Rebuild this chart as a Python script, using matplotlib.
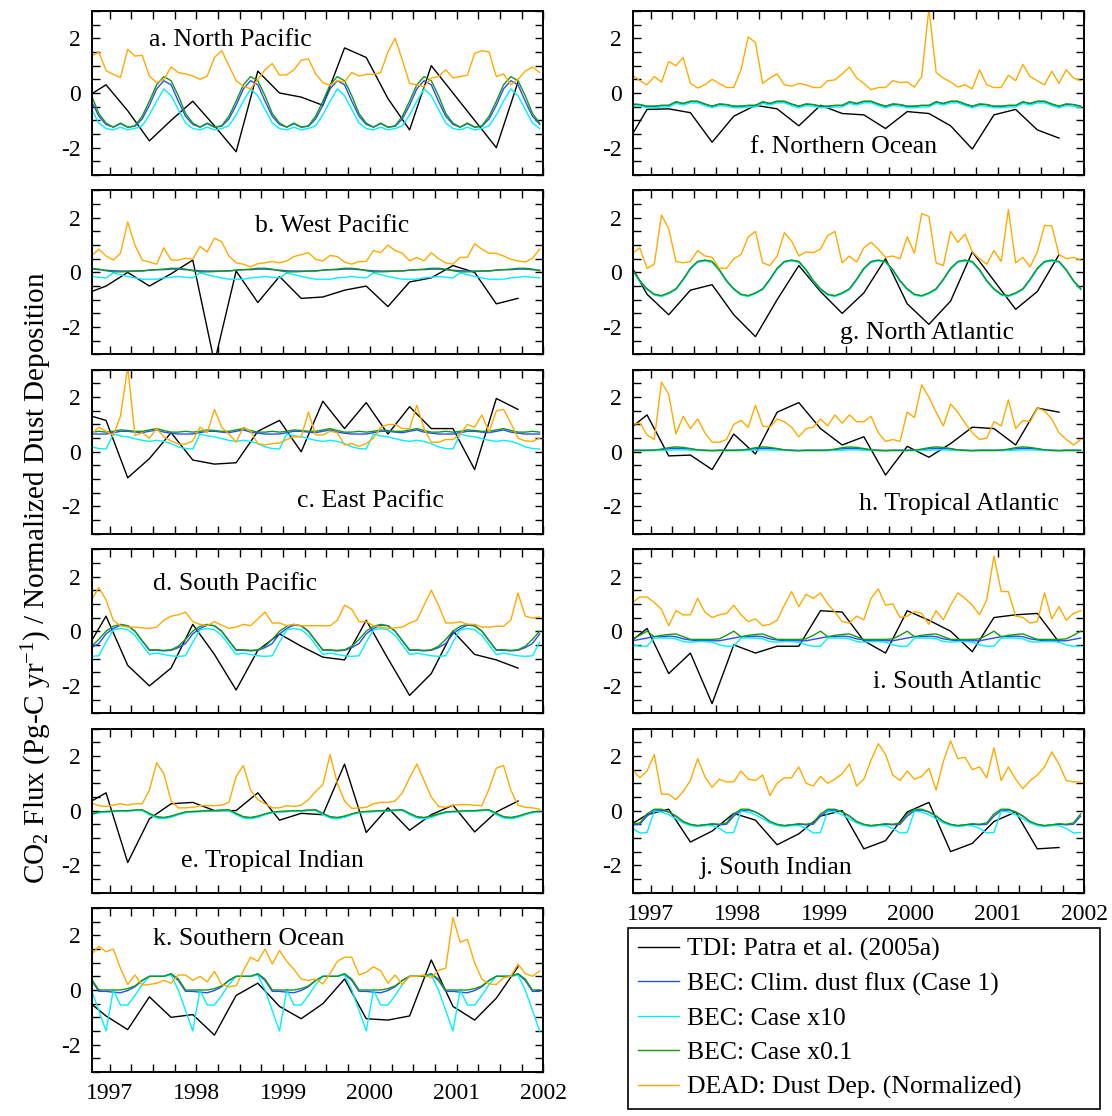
import numpy as np
import matplotlib
matplotlib.use("Agg")
import matplotlib.pyplot as plt
from matplotlib.ticker import MultipleLocator
from matplotlib.lines import Line2D

plt.rcParams['font.family'] = ['Liberation Serif', 'DejaVu Serif']
plt.rcParams['mathtext.fontset'] = 'custom'
plt.rcParams['mathtext.rm'] = 'Liberation Serif'
plt.rcParams['mathtext.it'] = 'Liberation Serif:italic'
plt.rcParams['axes.unicode_minus'] = False

# time axes: monthly Oct 1996 - Dec 2001, quarterly (Sep 1996 - Sep 2001)
m_t = 1996 + (np.arange(63) + 9.5) / 12.0
q_t = 1996 + (np.arange(21) * 3 + 8.5) / 12.0

# ---------------- a. North Pacific ----------------
a_tdi = [-0.2, 0.3, -0.65, -1.75, -1.0, -0.3, -1.2, -2.15, 0.8, 0.0, -0.15,
         -0.45, 1.65, 1.3, -0.2, -1.35, 1.0, 0.0, -1.0, -2.0, 0.4]
a_clim = [-0.3, -0.85, -1.15,
          -1.25, -1.12, -1.25, -1.22, -0.95, -0.45, 0.15, 0.45, 0.3, -0.3, -0.85, -1.15,
          -1.25, -1.12, -1.25, -1.22, -0.95, -0.45, 0.15, 0.45, 0.3, -0.3, -0.85, -1.15,
          -1.25, -1.12, -1.25, -1.22, -0.95, -0.45, 0.15, 0.45, 0.3, -0.3, -0.85, -1.15,
          -1.25, -1.12, -1.25, -1.22, -0.95, -0.45, 0.15, 0.45, 0.3, -0.3, -0.85, -1.15,
          -1.25, -1.12, -1.25, -1.22, -0.95, -0.45, 0.15, 0.45, 0.3, -0.3, -0.85, -1.15]
a_x10 = [-0.6, -1.1, -1.3,
         -1.35, -1.25, -1.35, -1.3, -1.2, -0.8, -0.3, 0.15, -0.1, -0.6, -1.1, -1.3,
         -1.35, -1.25, -1.35, -1.3, -1.2, -0.8, -0.3, 0.15, -0.1, -0.6, -1.1, -1.3,
         -1.35, -1.25, -1.35, -1.3, -1.2, -0.8, -0.3, 0.15, -0.1, -0.6, -1.1, -1.3,
         -1.35, -1.25, -1.35, -1.3, -1.2, -0.8, -0.3, 0.15, -0.1, -0.6, -1.1, -1.3,
         -1.35, -1.25, -1.35, -1.3, -1.2, -0.8, -0.3, 0.15, -0.1, -0.6, -1.1, -1.3]
a_x01 = [-0.1, -0.75, -1.1,
         -1.25, -1.1, -1.25, -1.2, -0.85, -0.3, 0.3, 0.6, 0.45, -0.1, -0.75, -1.1,
         -1.25, -1.1, -1.25, -1.2, -0.85, -0.3, 0.3, 0.6, 0.45, -0.1, -0.75, -1.1,
         -1.25, -1.1, -1.25, -1.2, -0.85, -0.3, 0.3, 0.6, 0.45, -0.1, -0.75, -1.1,
         -1.25, -1.1, -1.25, -1.2, -0.85, -0.3, 0.3, 0.6, 0.45, -0.1, -0.75, -1.1,
         -1.25, -1.1, -1.25, -1.2, -0.85, -0.3, 0.3, 0.6, 0.45, -0.1, -0.75, -1.1]
a_dust = [1.35, 1.5, 0.82, 0.68, 0.57, 1.6, 1.35, 1.38, 0.62, 0.38,
          0.5, 0.95, 0.75, 0.7, 0.62, 0.5, 0.62, 1.3, 1.55, 1.0,
          0.45, 0.25, 0.15, 0.5, 0.85, 1.08, 0.65, 0.67, 0.85, 1.2,
          1.25, 0.7, 0.38, 0.28, 0.45, 0.4, 0.75, 0.62, 0.68, 0.68,
          0.75, 1.5, 2.0, 1.2, 0.35, 0.3, 0.22, 0.55, 0.6, 0.85,
          0.55, 0.6, 0.65, 1.45, 1.55, 1.5, 0.6, 0.7, 0.3, 0.5,
          0.8, 0.95, 0.75]

# ---------------- b. West Pacific ----------------
b_tdi = [-0.8, -0.5, 0.0, -0.5, -0.05, 0.45, -3.3, 0.05, -1.1, -0.15, -0.95,
         -0.9, -0.65, -0.5, -1.25, -0.35, -0.2, 0.25, 0.0, -1.15, -0.95]
b_clim = [0.12, 0.1, 0.08,
          0.06, 0.05, 0.05, 0.05, 0.06, 0.08, 0.1, 0.1, 0.12, 0.12, 0.1, 0.08,
          0.06, 0.05, 0.05, 0.05, 0.06, 0.08, 0.1, 0.1, 0.12, 0.12, 0.1, 0.08,
          0.06, 0.05, 0.05, 0.05, 0.06, 0.08, 0.1, 0.1, 0.12, 0.12, 0.1, 0.08,
          0.06, 0.05, 0.05, 0.05, 0.06, 0.08, 0.1, 0.1, 0.12, 0.12, 0.1, 0.08,
          0.06, 0.05, 0.05, 0.05, 0.06, 0.08, 0.1, 0.1, 0.12, 0.12, 0.1, 0.08]
b_x10 = [-0.15, -0.18, -0.2,
         -0.02, -0.08, -0.15, -0.2, -0.25, -0.25, -0.25, -0.2, -0.18, -0.15, -0.18, -0.2,
         -0.02, -0.08, -0.15, -0.2, -0.25, -0.25, -0.25, -0.2, -0.18, -0.15, -0.18, -0.2,
         -0.02, -0.08, -0.15, -0.2, -0.25, -0.25, -0.25, -0.2, -0.18, -0.15, -0.18, -0.2,
         -0.02, -0.08, -0.15, -0.2, -0.25, -0.25, -0.25, -0.2, -0.18, -0.15, -0.18, -0.2,
         -0.02, -0.08, -0.15, -0.2, -0.25, -0.25, -0.25, -0.2, -0.18, -0.15, -0.18, -0.2]
b_x01 = [0.15, 0.12, 0.06,
         0.02, 0.02, 0.03, 0.05, 0.05, 0.08, 0.1, 0.12, 0.15, 0.15, 0.12, 0.06,
         0.02, 0.02, 0.03, 0.05, 0.05, 0.08, 0.1, 0.12, 0.15, 0.15, 0.12, 0.06,
         0.02, 0.02, 0.03, 0.05, 0.05, 0.08, 0.1, 0.12, 0.15, 0.15, 0.12, 0.06,
         0.02, 0.02, 0.03, 0.05, 0.05, 0.08, 0.1, 0.12, 0.15, 0.15, 0.12, 0.06,
         0.02, 0.02, 0.03, 0.05, 0.05, 0.08, 0.1, 0.12, 0.15, 0.15, 0.12, 0.06]
b_dust = [0.6, 0.85, 0.6, 0.45, 0.7, 1.85, 1.0, 0.45, 0.38, 0.3,
          0.9, 0.45, 0.45, 0.52, 0.48, 0.95, 0.75, 1.25, 1.12, 0.6,
          0.35, 0.3, 0.2, 0.32, 0.35, 0.4, 0.35, 0.42, 0.58, 0.65,
          0.72, 0.48, 0.42, 0.62, 0.58, 0.38, 0.3, 0.4, 0.4, 0.8,
          0.72, 1.0, 0.8, 0.7, 0.42, 0.55, 0.42, 0.72, 0.5, 0.35,
          0.3, 0.55, 0.55, 1.05, 0.85, 0.7, 0.7, 0.6, 0.48, 0.42,
          0.38, 0.52, 0.85]

# ---------------- c. East Pacific ----------------
c_tdi = [1.38, 1.15, -0.95, -0.25, 0.7, -0.3, -0.45, -0.4, 0.75, 1.15, 0.0,
         1.85, 0.85, 1.8, 0.65, 1.65, 0.85, 0.85, -0.65, 1.95, 1.55]
c_clim = [0.65, 0.65, 0.65,
          0.7, 0.75, 0.75, 0.72, 0.7, 0.75, 0.8, 0.72, 0.68, 0.65, 0.65, 0.65,
          0.7, 0.75, 0.75, 0.72, 0.7, 0.75, 0.8, 0.72, 0.68, 0.65, 0.65, 0.65,
          0.7, 0.75, 0.75, 0.72, 0.7, 0.75, 0.8, 0.72, 0.68, 0.65, 0.65, 0.65,
          0.7, 0.75, 0.75, 0.72, 0.7, 0.75, 0.8, 0.72, 0.68, 0.65, 0.65, 0.65,
          0.7, 0.75, 0.75, 0.72, 0.7, 0.75, 0.8, 0.72, 0.68, 0.65, 0.65, 0.65]
c_x10 = [0.18, 0.12, 0.1,
         0.65, 0.58, 0.55, 0.48, 0.42, 0.38, 0.42, 0.38, 0.3, 0.18, 0.12, 0.1,
         0.65, 0.58, 0.55, 0.48, 0.42, 0.38, 0.42, 0.38, 0.3, 0.18, 0.12, 0.1,
         0.65, 0.58, 0.55, 0.48, 0.42, 0.38, 0.42, 0.38, 0.3, 0.18, 0.12, 0.1,
         0.65, 0.58, 0.55, 0.48, 0.42, 0.38, 0.42, 0.38, 0.3, 0.18, 0.12, 0.1,
         0.65, 0.58, 0.55, 0.48, 0.42, 0.38, 0.42, 0.38, 0.3, 0.18, 0.12, 0.1]
c_x01 = [0.72, 0.75, 0.72,
         0.75, 0.8, 0.78, 0.75, 0.75, 0.8, 0.85, 0.78, 0.72, 0.72, 0.75, 0.72,
         0.75, 0.8, 0.78, 0.75, 0.75, 0.8, 0.85, 0.78, 0.72, 0.72, 0.75, 0.72,
         0.75, 0.8, 0.78, 0.75, 0.75, 0.8, 0.85, 0.78, 0.72, 0.72, 0.75, 0.72,
         0.75, 0.8, 0.78, 0.75, 0.75, 0.8, 0.85, 0.78, 0.72, 0.72, 0.75, 0.72,
         0.75, 0.8, 0.78, 0.75, 0.75, 0.8, 0.85, 0.78, 0.72, 0.72, 0.75, 0.72]
c_dust = [0.65, 0.9, 0.75, 0.6, 1.3, 3.1, 0.6, 0.7, 0.5, 0.85,
          0.55, 0.4, 0.28, 0.28, 0.4, 0.9, 0.7, 1.55, 0.9, 0.65,
          0.35, 0.9, 0.75, 0.3, 0.25, 0.3, 0.32, 0.45, 0.55, 0.55,
          1.45, 0.62, 0.62, 0.75, 0.7, 0.25, 0.3, 0.2, 0.3, 0.5,
          0.9, 1.0, 1.0, 0.85, 0.85, 1.7, 0.85, 0.35, 0.35, 0.45,
          0.45, 0.65, 1.0, 0.9, 1.35, 0.72, 1.5, 1.55, 1.05, 0.5,
          0.4, 0.38, 0.5]

# ---------------- d. South Pacific ----------------
d_tdi = [-0.8, 0.55, -1.25, -2.0, -1.35, 0.25, -0.85, -2.15, -0.7, -0.1, -0.55,
         -0.95, -1.05, 0.4, -1.0, -2.35, -1.55, 0.0, -0.85, -1.05, -1.35]
d_clim = [-0.6, -0.45, -0.1,
          0.1, 0.22, 0.2, 0.0, -0.35, -0.7, -0.7, -0.72, -0.7, -0.6, -0.45, -0.1,
          0.1, 0.22, 0.2, 0.0, -0.35, -0.7, -0.7, -0.72, -0.7, -0.6, -0.45, -0.1,
          0.1, 0.22, 0.2, 0.0, -0.35, -0.7, -0.7, -0.72, -0.7, -0.6, -0.45, -0.1,
          0.1, 0.22, 0.2, 0.0, -0.35, -0.7, -0.7, -0.72, -0.7, -0.6, -0.45, -0.1,
          0.1, 0.22, 0.2, 0.0, -0.35, -0.7, -0.7, -0.72, -0.7, -0.6, -0.45, -0.1]
d_x10 = [-0.92, -0.9, -0.4,
         0.05, 0.1, 0.05, -0.15, -0.5, -0.85, -0.8, -0.85, -0.9, -0.92, -0.9, -0.4,
         0.05, 0.1, 0.05, -0.15, -0.5, -0.85, -0.8, -0.85, -0.9, -0.92, -0.9, -0.4,
         0.05, 0.1, 0.05, -0.15, -0.5, -0.85, -0.8, -0.85, -0.9, -0.92, -0.9, -0.4,
         0.05, 0.1, 0.05, -0.15, -0.5, -0.85, -0.8, -0.85, -0.9, -0.92, -0.9, -0.4,
         0.05, 0.1, 0.05, -0.15, -0.5, -0.85, -0.8, -0.85, -0.9, -0.92, -0.9, -0.4]
d_x01 = [-0.55, -0.3, 0.0,
         0.18, 0.25, 0.2, 0.0, -0.35, -0.68, -0.68, -0.7, -0.68, -0.55, -0.3, 0.0,
         0.18, 0.25, 0.2, 0.0, -0.35, -0.68, -0.68, -0.7, -0.68, -0.55, -0.3, 0.0,
         0.18, 0.25, 0.2, 0.0, -0.35, -0.68, -0.68, -0.7, -0.68, -0.55, -0.3, 0.0,
         0.18, 0.25, 0.2, 0.0, -0.35, -0.68, -0.68, -0.7, -0.68, -0.55, -0.3, 0.0,
         0.18, 0.25, 0.2, 0.0, -0.35, -0.68, -0.68, -0.7, -0.68, -0.55, -0.3, 0.0]
d_dust = [1.15, 1.6, 1.15, 0.4, 0.2, 0.15, 0.15, 0.12, 0.1, 0.15,
          0.4, 0.55, 0.6, 0.7, 0.35, 0.25, 0.2, 0.35, 0.22, 0.1,
          0.15, 0.25, 0.2, 0.45, 0.7, 0.3, 0.3, 0.2, 0.25, 0.2,
          0.2, 0.2, 0.2, 0.2, 0.4, 0.95, 0.8, 0.35, 0.35, 0.2,
          0.15, 0.1, 0.12, 0.15, 0.3, 0.4, 0.95, 1.5, 0.95, 0.3,
          0.3, 0.35, 0.25, 0.25, 0.15, 0.15, 0.18, 0.18, 0.4, 1.4,
          0.55, 0.48, 0.52]

# ---------------- e. Tropical Indian ----------------
e_tdi = [0.2, 0.65, -1.9, -0.3, 0.25, 0.3, 0.0, 0.0, 0.65, -0.35, -0.1,
         -0.15, 1.7, -0.8, 0.1, -0.72, -0.15, 0.2, -0.78, -0.05, 0.35]
e_clim = [-0.13, -0.06, -0.04,
          -0.03, -0.01, -0.01, 0.01, 0.02, -0.12, -0.24, -0.27, -0.22, -0.13, -0.06, -0.04,
          -0.03, -0.01, -0.01, 0.01, 0.02, -0.12, -0.24, -0.27, -0.22, -0.13, -0.06, -0.04,
          -0.03, -0.01, -0.01, 0.01, 0.02, -0.12, -0.24, -0.27, -0.22, -0.13, -0.06, -0.04,
          -0.03, -0.01, -0.01, 0.01, 0.02, -0.12, -0.24, -0.27, -0.22, -0.13, -0.06, -0.04,
          -0.03, -0.01, -0.01, 0.01, 0.02, -0.12, -0.24, -0.27, -0.22, -0.13, -0.06, -0.04]
e_x10 = [-0.15, -0.08, -0.05,
         -0.04, -0.02, -0.02, 0.0, 0.0, -0.15, -0.27, -0.3, -0.25, -0.15, -0.08, -0.05,
         -0.04, -0.02, -0.02, 0.0, 0.0, -0.15, -0.27, -0.3, -0.25, -0.15, -0.08, -0.05,
         -0.04, -0.02, -0.02, 0.0, 0.0, -0.15, -0.27, -0.3, -0.25, -0.15, -0.08, -0.05,
         -0.04, -0.02, -0.02, 0.0, 0.0, -0.15, -0.27, -0.3, -0.25, -0.15, -0.08, -0.05,
         -0.04, -0.02, -0.02, 0.0, 0.0, -0.15, -0.27, -0.3, -0.25, -0.15, -0.08, -0.05]
e_x01 = [-0.12, -0.05, -0.03,
         -0.02, 0.0, 0.0, 0.02, 0.03, -0.1, -0.22, -0.25, -0.2, -0.12, -0.05, -0.03,
         -0.02, 0.0, 0.0, 0.02, 0.03, -0.1, -0.22, -0.25, -0.2, -0.12, -0.05, -0.03,
         -0.02, 0.0, 0.0, 0.02, 0.03, -0.1, -0.22, -0.25, -0.2, -0.12, -0.05, -0.03,
         -0.02, 0.0, 0.0, 0.02, 0.03, -0.1, -0.22, -0.25, -0.2, -0.12, -0.05, -0.03,
         -0.02, 0.0, 0.0, 0.02, 0.03, -0.1, -0.22, -0.25, -0.2, -0.12, -0.05, -0.03]
e_dust = [0.28, 0.18, 0.15, 0.2, 0.25, 0.2, 0.25, 0.25, 0.75, 1.75,
          1.35, 0.35, 0.1, 0.1, 0.12, 0.18, 0.18, 0.18, 0.2, 0.3,
          1.25, 1.65, 0.75, 0.4, 0.25, 0.1, 0.1, 0.18, 0.15, 0.2,
          0.4, 0.7, 0.95, 2.05, 1.0, 0.35, 0.08, 0.1, 0.12, 0.25,
          0.3, 0.3, 0.35, 0.65, 1.2, 1.7, 1.1, 0.5, 0.15, 0.12,
          0.2, 0.22, 0.22, 0.2, 0.18, 0.8, 1.55, 1.65, 0.75, 0.2,
          0.12, 0.1, 0.05]

# ---------------- k. Southern Ocean ----------------
k_tdi = [-0.3, -0.95, -1.45, -0.25, -1.0, -0.9, -1.65, -0.2, 0.25, -0.6, -1.05,
         -0.5, 0.4, -1.05, -1.1, -0.95, 1.1, -0.6, -1.1, -0.3, 0.85]
k_clim = [0.35, -0.05, -0.05,
          -0.08, -0.1, -0.02, 0.12, 0.35, 0.5, 0.5, 0.5, 0.58, 0.35, -0.05, -0.05,
          -0.08, -0.1, -0.02, 0.12, 0.35, 0.5, 0.5, 0.5, 0.58, 0.35, -0.05, -0.05,
          -0.08, -0.1, -0.02, 0.12, 0.35, 0.5, 0.5, 0.5, 0.58, 0.35, -0.05, -0.05,
          -0.08, -0.1, -0.02, 0.12, 0.35, 0.5, 0.5, 0.5, 0.58, 0.35, -0.05, -0.05,
          -0.08, -0.1, -0.02, 0.12, 0.35, 0.5, 0.5, 0.5, 0.58, 0.35, -0.05, -0.05]
k_x10 = [0.0, -0.75, -1.5,
         0.0, -0.55, -0.55, -0.2, 0.2, 0.5, 0.5, 0.5, 0.55, 0.0, -0.75, -1.5,
         0.0, -0.55, -0.55, -0.2, 0.2, 0.5, 0.5, 0.5, 0.55, 0.0, -0.75, -1.5,
         0.0, -0.55, -0.55, -0.2, 0.2, 0.5, 0.5, 0.5, 0.55, 0.0, -0.75, -1.5,
         0.0, -0.55, -0.55, -0.2, 0.2, 0.5, 0.5, 0.5, 0.55, 0.0, -0.75, -1.5,
         0.0, -0.55, -0.55, -0.2, 0.2, 0.5, 0.5, 0.5, 0.55, 0.0, -0.75, -1.5]
k_x01 = [0.4, 0.0, 0.0,
         0.0, 0.0, 0.05, 0.15, 0.35, 0.5, 0.5, 0.5, 0.6, 0.4, 0.0, 0.0,
         0.0, 0.0, 0.05, 0.15, 0.35, 0.5, 0.5, 0.5, 0.6, 0.4, 0.0, 0.0,
         0.0, 0.0, 0.05, 0.15, 0.35, 0.5, 0.5, 0.5, 0.6, 0.4, 0.0, 0.0,
         0.0, 0.0, 0.05, 0.15, 0.35, 0.5, 0.5, 0.5, 0.6, 0.4, 0.0, 0.0,
         0.0, 0.0, 0.05, 0.15, 0.35, 0.5, 0.5, 0.5, 0.6, 0.4, 0.0, 0.0]
k_dust = [1.3, 1.6, 1.4, 1.5, 0.8, 0.2, 0.55, 0.18, 0.2, 0.25,
          0.35, 0.25, 0.55, 0.55, 0.35, 0.5, 0.3, 0.68, 0.2, 0.12,
          0.15, 0.7, 1.2, 1.05, 1.5, 0.95, 1.45, 1.05, 0.75, 0.4,
          0.35, 0.4, 0.22, 0.6, 1.05, 1.2, 1.2, 0.55, 0.65, 0.85,
          0.7, 0.25, 0.55, 0.2, 0.5, 0.5, 0.55, 0.45, 0.72, 0.8,
          2.65, 1.75, 1.85, 1.0, 0.4, 0.22, 0.2, 0.45, 0.5, 0.95,
          0.6, 0.5, 0.7]

# ---------------- f. Northern Ocean ----------------
f_tdi = [-1.95, -0.6, -0.58, -0.72, -1.8, -0.85, -0.45, -0.58, -1.2, -0.45, -0.75,
         -0.8, -1.3, -0.68, -0.75, -1.2, -2.05, -0.8, -0.6, -1.35, -1.65]
f_clim = [-0.41, -0.43, -0.49,
          -0.49, -0.46, -0.46, -0.33, -0.39, -0.31, -0.31, -0.41, -0.49, -0.41, -0.43, -0.49,
          -0.49, -0.46, -0.46, -0.33, -0.39, -0.31, -0.31, -0.41, -0.49, -0.41, -0.43, -0.49,
          -0.49, -0.46, -0.46, -0.33, -0.39, -0.31, -0.31, -0.41, -0.49, -0.41, -0.43, -0.49,
          -0.49, -0.46, -0.46, -0.33, -0.39, -0.31, -0.31, -0.41, -0.49, -0.41, -0.43, -0.49,
          -0.49, -0.46, -0.46, -0.33, -0.39, -0.31, -0.31, -0.41, -0.49, -0.41, -0.43, -0.49]
f_x10 = [-0.46, -0.48, -0.54,
         -0.54, -0.51, -0.51, -0.38, -0.44, -0.36, -0.36, -0.46, -0.54, -0.46, -0.48, -0.54,
         -0.54, -0.51, -0.51, -0.38, -0.44, -0.36, -0.36, -0.46, -0.54, -0.46, -0.48, -0.54,
         -0.54, -0.51, -0.51, -0.38, -0.44, -0.36, -0.36, -0.46, -0.54, -0.46, -0.48, -0.54,
         -0.54, -0.51, -0.51, -0.38, -0.44, -0.36, -0.36, -0.46, -0.54, -0.46, -0.48, -0.54,
         -0.54, -0.51, -0.51, -0.38, -0.44, -0.36, -0.36, -0.46, -0.54, -0.46, -0.48, -0.54]
f_x01 = [-0.4, -0.42, -0.48,
         -0.48, -0.45, -0.45, -0.32, -0.38, -0.3, -0.3, -0.4, -0.48, -0.4, -0.42, -0.48,
         -0.48, -0.45, -0.45, -0.32, -0.38, -0.3, -0.3, -0.4, -0.48, -0.4, -0.42, -0.48,
         -0.48, -0.45, -0.45, -0.32, -0.38, -0.3, -0.3, -0.4, -0.48, -0.4, -0.42, -0.48,
         -0.48, -0.45, -0.45, -0.32, -0.38, -0.3, -0.3, -0.4, -0.48, -0.4, -0.42, -0.48,
         -0.48, -0.45, -0.45, -0.32, -0.38, -0.3, -0.3, -0.4, -0.48, -0.4, -0.42, -0.48]
f_dust = [0.65, 0.45, 0.3, 0.6, 0.4, 1.15, 1.0, 1.3, 0.35, 0.18,
          0.3, 0.5, 0.35, 0.2, 0.2, 0.85, 2.05, 1.85, 0.35, 0.55,
          0.7, 0.3, 0.25, 0.35, 0.3, 0.2, 0.2, 0.45, 0.48, 0.7,
          0.95, 0.55, 0.35, 0.12, 0.2, 0.2, 0.45, 0.38, 0.4, 0.22,
          0.6, 3.1, 0.75, 0.55, 0.4, 0.22, 0.3, 0.15, 0.85, 0.3,
          0.2, 0.2, 0.65, 0.45, 1.05, 0.6, 0.45, 0.3, 0.8, 0.35,
          0.85, 0.55, 0.45]

# ---------------- g. North Atlantic ----------------
g_tdi = [0.63, -0.8, -1.55, -0.65, -0.45, -1.55, -2.35, -1.0, 0.25, -0.7, -1.5,
         -0.75, 0.5, -1.15, -1.9, -1.05, 0.75, -0.3, -1.35, -0.7, 0.65]
g_clim = [0.09, -0.31, -0.61,
          -0.81, -0.86, -0.76, -0.61, -0.26, 0.14, 0.39, 0.44, 0.39, 0.09, -0.31, -0.61,
          -0.81, -0.86, -0.76, -0.61, -0.26, 0.14, 0.39, 0.44, 0.39, 0.09, -0.31, -0.61,
          -0.81, -0.86, -0.76, -0.61, -0.26, 0.14, 0.39, 0.44, 0.39, 0.09, -0.31, -0.61,
          -0.81, -0.86, -0.76, -0.61, -0.26, 0.14, 0.39, 0.44, 0.39, 0.09, -0.31, -0.61,
          -0.81, -0.86, -0.76, -0.61, -0.26, 0.14, 0.39, 0.44, 0.39, 0.09, -0.31, -0.61]
g_x10 = [0.07, -0.33, -0.63,
         -0.83, -0.88, -0.78, -0.63, -0.28, 0.12, 0.37, 0.42, 0.37, 0.07, -0.33, -0.63,
         -0.83, -0.88, -0.78, -0.63, -0.28, 0.12, 0.37, 0.42, 0.37, 0.07, -0.33, -0.63,
         -0.83, -0.88, -0.78, -0.63, -0.28, 0.12, 0.37, 0.42, 0.37, 0.07, -0.33, -0.63,
         -0.83, -0.88, -0.78, -0.63, -0.28, 0.12, 0.37, 0.42, 0.37, 0.07, -0.33, -0.63,
         -0.83, -0.88, -0.78, -0.63, -0.28, 0.12, 0.37, 0.42, 0.37, 0.07, -0.33, -0.63]
g_x01 = [0.1, -0.3, -0.6,
         -0.8, -0.85, -0.75, -0.6, -0.25, 0.15, 0.4, 0.45, 0.4, 0.1, -0.3, -0.6,
         -0.8, -0.85, -0.75, -0.6, -0.25, 0.15, 0.4, 0.45, 0.4, 0.1, -0.3, -0.6,
         -0.8, -0.85, -0.75, -0.6, -0.25, 0.15, 0.4, 0.45, 0.4, 0.1, -0.3, -0.6,
         -0.8, -0.85, -0.75, -0.6, -0.25, 0.15, 0.4, 0.45, 0.4, 0.1, -0.3, -0.6,
         -0.8, -0.85, -0.75, -0.6, -0.25, 0.15, 0.4, 0.45, 0.4, 0.1, -0.3, -0.6]
g_dust = [0.7, 0.9, 0.15, 0.3, 2.1, 1.6, 0.4, 0.35, 0.4, 0.8,
          0.6, 0.55, 0.15, 0.15, 0.5, 0.65, 1.3, 1.5, 0.35, 0.25,
          0.6, 1.45, 1.15, 0.6, 0.75, 0.72, 0.85, 1.35, 1.5, 0.35,
          0.6, 0.38, 0.9, 1.1, 0.85, 0.55, 0.6, 0.5, 1.3, 0.7,
          2.15, 2.05, 0.35, 0.25, 1.5, 1.1, 1.4, 0.75, 0.5, 0.3,
          0.8, 0.4, 2.3, 0.35, 0.55, 0.2, 0.75, 1.72, 1.7, 0.65,
          0.5, 0.55, 0.45]

# ---------------- h. Tropical Atlantic ----------------
h_tdi = [0.71, 1.35, -0.15, -0.12, -0.65, 0.65, -0.08, 1.45, 1.8, 0.85, 0.25,
         0.55, -0.85, 0.2, -0.2, 0.3, 0.9, 0.85, 0.25, 1.6, 1.45]
h_clim = [0.06, 0.06, 0.06,
          0.06, 0.08, 0.11, 0.13, 0.12, 0.1, 0.07, 0.06, 0.05, 0.06, 0.06, 0.06,
          0.06, 0.08, 0.11, 0.13, 0.12, 0.1, 0.07, 0.06, 0.05, 0.06, 0.06, 0.06,
          0.06, 0.08, 0.11, 0.13, 0.12, 0.1, 0.07, 0.06, 0.05, 0.06, 0.06, 0.06,
          0.06, 0.08, 0.11, 0.13, 0.12, 0.1, 0.07, 0.06, 0.05, 0.06, 0.06, 0.06,
          0.06, 0.08, 0.11, 0.13, 0.12, 0.1, 0.07, 0.06, 0.05, 0.06, 0.06, 0.06]
h_x10 = [0.04, 0.04, 0.04,
         0.04, 0.05, 0.06, 0.07, 0.07, 0.06, 0.05, 0.04, 0.04, 0.04, 0.04, 0.04,
         0.04, 0.05, 0.06, 0.07, 0.07, 0.06, 0.05, 0.04, 0.04, 0.04, 0.04, 0.04,
         0.04, 0.05, 0.06, 0.07, 0.07, 0.06, 0.05, 0.04, 0.04, 0.04, 0.04, 0.04,
         0.04, 0.05, 0.06, 0.07, 0.07, 0.06, 0.05, 0.04, 0.04, 0.04, 0.04, 0.04,
         0.04, 0.05, 0.06, 0.07, 0.07, 0.06, 0.05, 0.04, 0.04, 0.04, 0.04, 0.04]
h_x01 = [0.05, 0.05, 0.05,
         0.06, 0.1, 0.15, 0.18, 0.16, 0.12, 0.07, 0.05, 0.04, 0.05, 0.05, 0.05,
         0.06, 0.1, 0.15, 0.18, 0.16, 0.12, 0.07, 0.05, 0.04, 0.05, 0.05, 0.05,
         0.06, 0.1, 0.15, 0.18, 0.16, 0.12, 0.07, 0.05, 0.04, 0.05, 0.05, 0.05,
         0.06, 0.1, 0.15, 0.18, 0.16, 0.12, 0.07, 0.05, 0.04, 0.05, 0.05, 0.05,
         0.06, 0.1, 0.15, 0.18, 0.16, 0.12, 0.07, 0.05, 0.04, 0.05, 0.05, 0.05]
h_dust = [1.0, 1.05, 0.62, 0.45, 2.55, 2.1, 0.65, 1.3, 0.85, 1.2,
          0.7, 0.35, 0.35, 0.45, 1.0, 1.15, 0.9, 1.7, 0.95, 0.9,
          1.2, 1.1, 0.9, 0.55, 0.85, 0.9, 1.2, 0.95, 1.35, 1.05,
          1.35, 1.1, 1.1, 1.3, 0.7, 0.38, 0.45, 0.38, 1.45, 1.25,
          2.45, 2.0, 1.45, 0.95, 1.75, 1.45, 1.05, 0.7, 0.45, 0.5,
          1.1, 0.95, 1.9, 0.85, 1.15, 1.1, 1.6, 1.5, 1.2, 0.7,
          0.45, 0.25, 0.45]

# ---------------- i. South Atlantic ----------------
i_tdi = [-0.53, 0.1, -1.55, -0.8, -2.65, -0.5, -0.8, -0.55, -0.55, 0.75, 0.7,
         -0.35, -0.8, 0.75, 0.4, 0.0, -0.75, 0.5, 0.6, 0.65, -0.4]
i_clim = [-0.35, -0.3, -0.25,
          -0.2, -0.2, -0.18, -0.2, -0.28, -0.32, -0.35, -0.35, -0.35, -0.35, -0.3, -0.25,
          -0.2, -0.2, -0.18, -0.2, -0.28, -0.32, -0.35, -0.35, -0.35, -0.35, -0.3, -0.25,
          -0.2, -0.2, -0.18, -0.2, -0.28, -0.32, -0.35, -0.35, -0.35, -0.35, -0.3, -0.25,
          -0.2, -0.2, -0.18, -0.2, -0.28, -0.32, -0.35, -0.35, -0.35, -0.35, -0.3, -0.25,
          -0.2, -0.2, -0.18, -0.2, -0.28, -0.32, -0.35, -0.35, -0.35, -0.35, -0.3, -0.25]
i_x10 = [-0.5, -0.55, -0.55,
         -0.25, -0.25, -0.25, -0.28, -0.38, -0.4, -0.38, -0.38, -0.4, -0.5, -0.55, -0.55,
         -0.25, -0.25, -0.25, -0.28, -0.38, -0.4, -0.38, -0.38, -0.4, -0.5, -0.55, -0.55,
         -0.25, -0.25, -0.25, -0.28, -0.38, -0.4, -0.38, -0.38, -0.4, -0.5, -0.55, -0.55,
         -0.25, -0.25, -0.25, -0.28, -0.38, -0.4, -0.38, -0.38, -0.4, -0.5, -0.55, -0.55,
         -0.25, -0.25, -0.25, -0.28, -0.38, -0.4, -0.38, -0.38, -0.4, -0.5, -0.55, -0.55]
i_x01 = [-0.28, -0.15, 0.0,
         -0.2, -0.15, -0.12, -0.1, -0.2, -0.3, -0.3, -0.3, -0.3, -0.28, -0.15, 0.0,
         -0.2, -0.15, -0.12, -0.1, -0.2, -0.3, -0.3, -0.3, -0.3, -0.28, -0.15, 0.0,
         -0.2, -0.15, -0.12, -0.1, -0.2, -0.3, -0.3, -0.3, -0.3, -0.28, -0.15, 0.0,
         -0.2, -0.15, -0.12, -0.1, -0.2, -0.3, -0.3, -0.3, -0.3, -0.28, -0.15, 0.0,
         -0.2, -0.15, -0.12, -0.1, -0.2, -0.3, -0.3, -0.3, -0.3, -0.28, -0.15, 0.0]
i_dust = [1.05, 1.25, 1.25, 1.05, 0.8, 0.2, 0.75, 0.6, 0.6, 1.2,
          0.7, 0.5, 0.6, 0.65, 0.95, 0.6, 0.35, 0.45, 0.2, 0.25,
          0.4, 0.95, 1.45, 0.9, 1.35, 1.2, 1.4, 1.0, 0.7, 0.35,
          0.3, 0.55, 0.42, 1.2, 1.55, 0.95, 1.0, 0.5, 0.55, 0.72,
          0.65, 0.25, 0.75, 0.42, 0.95, 1.4, 1.2, 0.95, 0.6, 1.15,
          2.75, 1.45, 1.45, 0.55, 0.5, 0.3, 0.35, 1.4, 0.45, 0.9,
          0.4, 0.65, 0.75]

# ---------------- j. South Indian ----------------
j_tdi = [-0.63, -0.15, 0.05, -1.15, -0.75, -0.1, -0.35, -1.25, -0.85, -0.2, 0.0,
         -1.4, -1.1, -0.05, 0.3, -1.5, -1.2, -0.4, -0.05, -1.4, -1.35]
j_clim = [-0.52, -0.5, -0.2,
          0.0, 0.02, -0.05, -0.2, -0.4, -0.52, -0.55, -0.52, -0.5, -0.52, -0.5, -0.2,
          0.0, 0.02, -0.05, -0.2, -0.4, -0.52, -0.55, -0.52, -0.5, -0.52, -0.5, -0.2,
          0.0, 0.02, -0.05, -0.2, -0.4, -0.52, -0.55, -0.52, -0.5, -0.52, -0.5, -0.2,
          0.0, 0.02, -0.05, -0.2, -0.4, -0.52, -0.55, -0.52, -0.5, -0.52, -0.5, -0.2,
          0.0, 0.02, -0.05, -0.2, -0.4, -0.52, -0.55, -0.52, -0.5, -0.52, -0.5, -0.2]
j_x10 = [-0.65, -0.82, -0.8,
         -0.02, -0.05, -0.15, -0.3, -0.45, -0.55, -0.58, -0.55, -0.55, -0.65, -0.82, -0.8,
         -0.02, -0.05, -0.15, -0.3, -0.45, -0.55, -0.58, -0.55, -0.55, -0.65, -0.82, -0.8,
         -0.02, -0.05, -0.15, -0.3, -0.45, -0.55, -0.58, -0.55, -0.55, -0.65, -0.82, -0.8,
         -0.02, -0.05, -0.15, -0.3, -0.45, -0.55, -0.58, -0.55, -0.55, -0.65, -0.82, -0.8,
         -0.02, -0.05, -0.15, -0.3, -0.45, -0.55, -0.58, -0.55, -0.55, -0.65, -0.82, -0.8]
j_x01 = [-0.5, -0.45, -0.12,
         0.05, 0.05, -0.05, -0.2, -0.4, -0.5, -0.55, -0.52, -0.48, -0.5, -0.45, -0.12,
         0.05, 0.05, -0.05, -0.2, -0.4, -0.5, -0.55, -0.52, -0.48, -0.5, -0.45, -0.12,
         0.05, 0.05, -0.05, -0.2, -0.4, -0.5, -0.55, -0.52, -0.48, -0.5, -0.45, -0.12,
         0.05, 0.05, -0.05, -0.2, -0.4, -0.5, -0.55, -0.52, -0.48, -0.5, -0.45, -0.12,
         0.05, 0.05, -0.05, -0.2, -0.4, -0.5, -0.55, -0.52, -0.48, -0.5, -0.45, -0.12]
j_dust = [1.5, 1.2, 1.45, 2.05, 0.6, 0.6, 0.4, 0.7, 1.1, 1.9,
          1.25, 0.85, 1.15, 1.05, 1.05, 1.45, 1.15, 1.1, 1.3, 0.55,
          1.0, 1.2, 1.2, 1.6, 1.0, 0.9, 1.25, 1.0, 1.15, 1.35,
          1.7, 0.9, 1.15, 1.85, 2.45, 2.05, 1.3, 1.1, 1.45, 1.15,
          1.25, 1.55, 0.75, 1.8, 2.55, 1.9, 1.95, 1.5, 1.6, 1.2,
          2.3, 1.1, 1.6, 1.15, 0.8, 1.1, 1.3, 1.6, 2.15, 1.7,
          1.1, 1.05, 1.05]

legend_labels = ['TDI: Patra et al. (2005a)', 'BEC: Clim. dust flux (Case 1)',
                 'BEC: Case x10', 'BEC: Case x0.1', 'DEAD: Dust Dep. (Normalized)']

C_TDI = 'black'
C_CLIM = '#2a4cff'
C_X10 = '#00f0ff'
C_X01 = '#159a15'
C_DUST = '#ffaa00'

W, H = 1112, 1116
fig = plt.figure(figsize=(W / 100, H / 100), dpi=100)


def make_ax(col, row):
    x0 = [92.3, 633.3][col]
    top = 11 + 179.4 * row
    return fig.add_axes([x0 / W, 1 - (top + 164) / H, 451 / W, 164 / H])


def panel(ax, tdi, clim, x10, x01, dust, label, lx, ly, bottom=False):
    ax.plot(q_t, tdi, color=C_TDI, lw=1.0)
    ax.plot(m_t, clim, color=C_CLIM, lw=1.0)
    ax.plot(m_t, x10, color=C_X10, lw=1.0)
    ax.plot(m_t, x01, color=C_X01, lw=1.0)
    ax.plot(m_t, dust, color=C_DUST, lw=1.0)
    ax.set_xlim(1996.8, 2002.0)
    ax.set_ylim(-3, 3)
    ax.xaxis.set_major_locator(MultipleLocator(1))
    ax.xaxis.set_minor_locator(MultipleLocator(0.25))
    ax.yaxis.set_major_locator(MultipleLocator(2))
    ax.yaxis.set_minor_locator(MultipleLocator(0.5))
    ax.tick_params(which='both', direction='in', top=True, right=True,
                   length=6, width=1.0, labelsize=17, pad=8)
    ax.set_yticks([-2, 0, 2])
    ax.set_yticklabels(['-2', '0', '2'])
    if bottom:
        ax.set_xticks([1997, 1998, 1999, 2000, 2001, 2002])
        ax.set_xticklabels(['1997', '1998', '1999', '2000', '2001', '2002'])
    else:
        ax.tick_params(labelbottom=False)
    for s in ax.spines.values():
        s.set_linewidth(1.4)
    ax.text(lx, ly, label, fontsize=18.5, ha='left', va='center')


panel(make_ax(0, 0), a_tdi, a_clim, a_x10, a_x01, a_dust, 'a. North Pacific', 1997.45, 1.95)
panel(make_ax(0, 1), b_tdi, b_clim, b_x10, b_x01, b_dust, 'b. West Pacific', 1998.68, 1.7)
panel(make_ax(0, 2), c_tdi, c_clim, c_x10, c_x01, c_dust, 'c. East Pacific', 1999.16, -1.8)
panel(make_ax(0, 3), d_tdi, d_clim, d_x10, d_x01, d_dust, 'd. South Pacific', 1997.5, 1.72)
panel(make_ax(0, 4), e_tdi, e_clim, e_x10, e_x01, e_dust, 'e. Tropical Indian', 1997.82, -1.83)
panel(make_ax(0, 5), k_tdi, k_clim, k_x10, k_x01, k_dust, 'k. Southern Ocean', 1997.5, 1.88,
      bottom=True)
panel(make_ax(1, 0), f_tdi, f_clim, f_x10, f_x01, f_dust, 'f. Northern Ocean', 1998.15, -1.98)
panel(make_ax(1, 1), g_tdi, g_clim, g_x10, g_x01, g_dust, 'g. North Atlantic', 1999.18, -2.2)
panel(make_ax(1, 2), h_tdi, h_clim, h_x10, h_x01, h_dust, 'h. Tropical Atlantic', 1999.4, -1.91)
panel(make_ax(1, 3), i_tdi, i_clim, i_x10, i_x01, i_dust, 'i. South Atlantic', 1999.56, -1.85)
panel(make_ax(1, 4), j_tdi, j_clim, j_x10, j_x01, j_dust, 'j. South Indian', 1997.57, -2.1,
      bottom=True)

fig.text(37 / W, 1 - 578 / H,
         r'CO$_2$ Flux (Pg-C yr$^{-1}$) / Normalized Dust Deposition',
         rotation=90, ha='center', va='center', fontsize=21)

handles = [Line2D([], [], color=c, lw=1.0) for c in (C_TDI, C_CLIM, C_X10, C_X01, C_DUST)]
leg = fig.legend(handles, legend_labels, loc='upper left', mode='expand',
                 bbox_to_anchor=(628 / W, 1 - 1113 / H, 472 / W, 185 / H), fontsize=18.5,
                 frameon=True, fancybox=False, edgecolor='black', framealpha=1,
                 borderpad=0.38, labelspacing=0.44, handlelength=1.6, handletextpad=0.31,
                 borderaxespad=0)
leg.get_frame().set_linewidth(1.2)

fig.savefig('out.png', dpi=100)
